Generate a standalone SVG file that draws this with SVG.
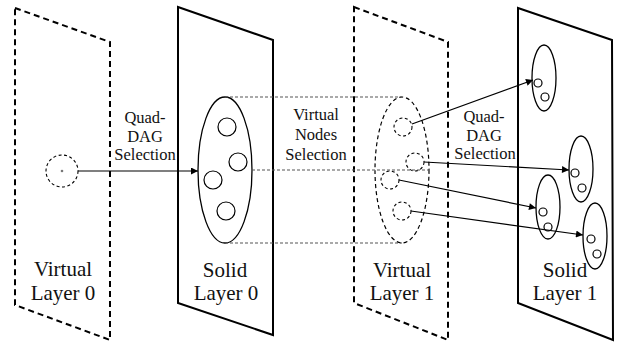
<svg xmlns="http://www.w3.org/2000/svg" width="619" height="343" viewBox="0 0 619 343">
<defs>
<marker id="ah" viewBox="0 0 10 10" refX="10" refY="5" markerWidth="9" markerHeight="7" markerUnits="userSpaceOnUse" orient="auto">
<path d="M0,0 L10,5 L0,10 z" fill="#000"/>
</marker>
</defs>
<style>
.t{font-family:'Liberation Serif','Times New Roman',Times,'DejaVu Serif',serif;fill:#111;text-anchor:middle}
.lbl{font-size:21px}
.sm{font-size:16.5px}
.layer{fill:none;stroke:#000;stroke-width:2}
.vlayer{fill:none;stroke:#000;stroke-width:2;stroke-dasharray:6,4}
.ell{fill:#fff;stroke:#000;stroke-width:1.3}
.vell{fill:none;stroke:#000;stroke-width:1.2;stroke-dasharray:4,3}
.node{fill:#fff;stroke:#000;stroke-width:1.2}
.vnode{fill:none;stroke:#000;stroke-width:1.1;stroke-dasharray:3,2.5}
.guide{fill:none;stroke:#555;stroke-width:1.2;stroke-dasharray:3,2}
.conn{fill:none;stroke:#000;stroke-width:1.2}
</style>
<g id="virtual-layer-0">
<polygon class="vlayer" points="15,8 110,42 110,340 15,305"/>
<circle class="vnode" cx="62" cy="171" r="16"/>
<circle cx="62" cy="171" r="1.3" fill="#777"/>
<text class="t lbl" font-family="Liberation Serif, serif" x="63" y="276">Virtual</text>
<text class="t lbl" font-family="Liberation Serif, serif" x="63" y="300">Layer 0</text>
</g>
<g id="solid-layer-0">
<polygon class="layer" points="178,7 273,40 273,335 178,303"/>
<ellipse class="ell" cx="225" cy="170" rx="27" ry="73"/>
<circle class="node" cx="227" cy="127" r="9"/>
<circle class="node" cx="238" cy="162" r="9"/>
<circle class="node" cx="213" cy="180" r="9"/>
<circle class="node" cx="226" cy="211" r="9"/>
<text class="t lbl" font-family="Liberation Serif, serif" x="225" y="277">Solid</text>
<text class="t lbl" font-family="Liberation Serif, serif" x="226" y="300">Layer 0</text>
</g>
<g id="virtual-layer-1">
<polygon class="vlayer" points="354,7 448,42 448,340 354,303"/>
<ellipse class="vell" cx="402" cy="170" rx="27" ry="73"/>
<circle class="vnode" cx="403" cy="127" r="9"/>
<circle class="vnode" cx="415" cy="162" r="9"/>
<circle class="vnode" cx="390" cy="180" r="9"/>
<circle class="vnode" cx="402" cy="211" r="9"/>
<text class="t lbl" font-family="Liberation Serif, serif" x="402" y="277">Virtual</text>
<text class="t lbl" font-family="Liberation Serif, serif" x="402" y="300">Layer 1</text>
</g>
<g id="solid-layer-1">
<polygon class="layer" points="518,8 612,40 613,340 518,303"/>
<ellipse class="ell" cx="544" cy="78" rx="12" ry="33"/>
<circle class="node" cx="538" cy="83" r="4"/>
<circle class="node" cx="545" cy="97" r="4"/>
<ellipse class="ell" cx="581" cy="169" rx="12" ry="33"/>
<circle class="node" cx="575" cy="173" r="4"/>
<circle class="node" cx="582" cy="188" r="4"/>
<ellipse class="ell" cx="548" cy="207" rx="12" ry="32"/>
<circle class="node" cx="543" cy="212" r="4"/>
<circle class="node" cx="548" cy="227" r="4"/>
<ellipse class="ell" cx="595" cy="236" rx="12" ry="33"/>
<circle class="node" cx="591" cy="239" r="4"/>
<circle class="node" cx="597" cy="254" r="4"/>
<text class="t lbl" font-family="Liberation Serif, serif" x="565" y="277">Solid</text>
<text class="t lbl" font-family="Liberation Serif, serif" x="565" y="300">Layer 1</text>
</g>
<g id="labels">
<text class="t sm" font-family="Liberation Serif, serif" x="145" y="123">Quad-</text>
<text class="t sm" font-family="Liberation Serif, serif" x="145" y="142">DAG</text>
<text class="t sm" font-family="Liberation Serif, serif" x="145" y="160">Selection</text>
<text class="t sm" font-family="Liberation Serif, serif" x="316" y="120">Virtual</text>
<text class="t sm" font-family="Liberation Serif, serif" x="316" y="140">Nodes</text>
<text class="t sm" font-family="Liberation Serif, serif" x="316" y="160">Selection</text>
<text class="t sm" font-family="Liberation Serif, serif" x="484" y="122">Quad-</text>
<text class="t sm" font-family="Liberation Serif, serif" x="484" y="141">DAG</text>
<text class="t sm" font-family="Liberation Serif, serif" x="485" y="159">Selection</text>
</g>
<g id="connectors">
<line class="guide" x1="225" y1="97" x2="402" y2="97"/>
<line class="guide" x1="252" y1="170" x2="429" y2="170"/>
<line class="guide" x1="225" y1="243" x2="402" y2="243"/>
<line class="conn" x1="78" y1="171" x2="198" y2="171" marker-end="url(#ah)"/>
<line class="conn" x1="412" y1="124" x2="533" y2="80" marker-end="url(#ah)"/>
<line class="conn" x1="424" y1="162" x2="569" y2="170" marker-end="url(#ah)"/>
<line class="conn" x1="399" y1="180" x2="536" y2="208" marker-end="url(#ah)"/>
<line class="conn" x1="411" y1="211" x2="583" y2="235" marker-end="url(#ah)"/>
</g>
</svg>
